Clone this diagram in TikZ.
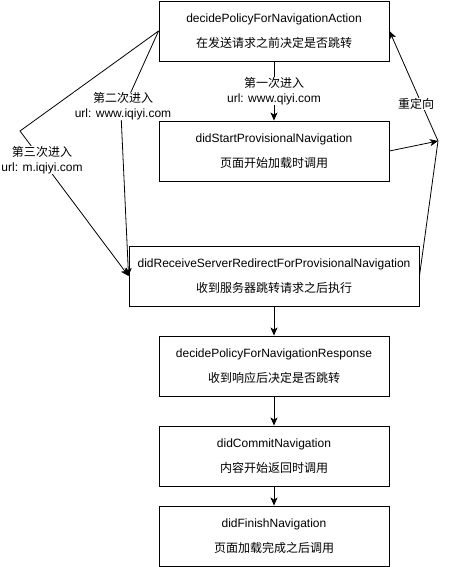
\documentclass[tikz,border=0pt]{standalone}
\usepackage{fontspec}
\setmainfont{Liberation Sans}
\newfontfamily\cjk{Noto Sans CJK SC}
\usetikzlibrary{arrows.meta}
\tikzset{
  box/.style={draw, line width=0.9pt, minimum width=230pt, minimum height=60pt, inner sep=0pt, align=center, font=\fontsize{12}{14.4}\selectfont},
  widebox/.style={box, minimum width=290pt},
  arr/.style={line width=0.8pt, -{Stealth[length=8pt,width=7pt,inset=2pt]}},
  lbl/.style={fill=white, inner xsep=1pt, inner ysep=0pt, align=center, font=\fontsize{12}{14.4}\selectfont}
}
\begin{document}
\begin{tikzpicture}[x=1pt,y=-1pt]
\fill[white] (0,0) rectangle (448,567);
\useasboundingbox (0,0) rectangle (448,567);
\node[box] (a) at (274,31) {decidePolicyForNavigationAction\\[10.6pt]{\cjk 在发送请求之前决定是否跳转}};
\node[box] (b) at (274,151) {didStartProvisionalNavigation\\[10.6pt]{\cjk 页面开始加载时调用}};
\node[widebox] (c) at (274,276) {didReceiveServerRedirectForProvisionalNavigation\\[10.6pt]{\cjk 收到服务器跳转请求之后执行}};
\node[box] (d) at (274,366) {decidePolicyForNavigationResponse\\[10.6pt]{\cjk 收到响应后决定是否跳转}};
\node[box] (e) at (274,456) {didCommitNavigation\\[10.6pt]{\cjk 内容开始返回时调用}};
\node[box] (f) at (274,536) {didFinishNavigation\\[10.6pt]{\cjk 页面加载完成之后调用}};
\coordinate (w2) at (121,114);
\coordinate (w3) at (20,131);
\coordinate (r) at (438,141);
\draw[arr] (a) -- (b) node[lbl, midway] (l1) {{\cjk 第一次进入}\\url: www.qiyi.com};
\draw[arr] (a.west) -- (w2) -- (c.west);
\draw[arr] (a.west) -- (w3) -- (c.west);
\draw[arr] (b.east) -- (r);
\draw[arr] (c.east) -- (r) -- (a.east);
\draw[arr] (c) -- (d);
\draw[arr] (d) -- (e);
\draw[arr] (e) -- (f);
\node[lbl] (l2) at (123,106) {{\cjk 第二次进入}\\url: www.iqiyi.com};
\node[lbl] (l3) at (42,160) {{\cjk 第三次进入}\\url: m.iqiyi.com};
\node[lbl] (l4) at (416,104) {\cjk 重定向};
\end{tikzpicture}
\end{document}
